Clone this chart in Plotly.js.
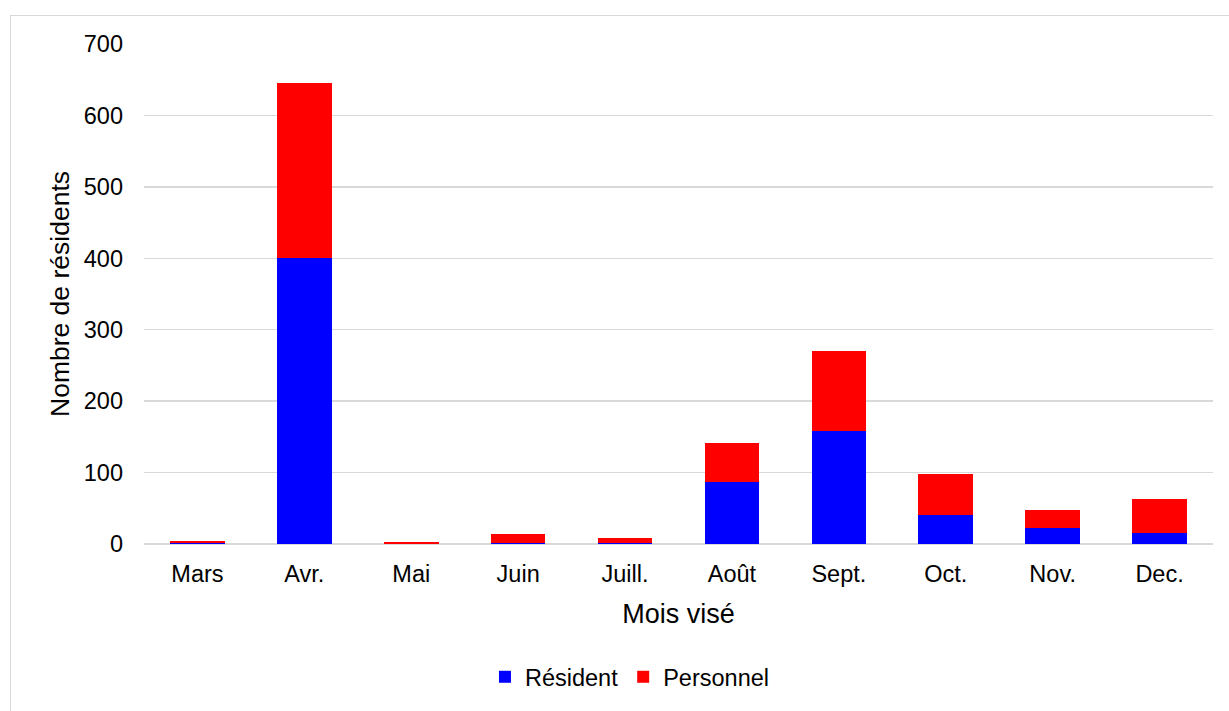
<!DOCTYPE html>
<html>
<head>
<meta charset="utf-8">
<script src="https://cdn.plot.ly/plotly-3.0.1.min.js"></script>
<style>
  html, body { margin: 0; padding: 0; background: #ffffff; }
  #frame { position: absolute; left: 10px; top: 15px; width: 1240px; height: 720px; border: 1.5px solid #d9d9d9; box-sizing: border-box; }
  #chart { position: absolute; left: 0; top: 0; width: 1229px; height: 711px; }
</style>
</head>
<body>
<div id="frame"></div>
<div id="chart"></div>
<script>
const months = ['Mars', 'Avr.', 'Mai', 'Juin', 'Juill.', 'Août', 'Sept.', 'Oct.', 'Nov.', 'Dec.'];
const resident = [1, 400, 0, 1, 1, 87, 158, 41, 22, 16];
const personnel = [3, 246, 3, 13, 7, 54, 112, 57, 25, 47];
const yTicks = [0, 100, 200, 300, 400, 500, 600, 700];

const font = 'Liberation Sans, Arial, sans-serif';

const traces = [
  { type: 'bar', name: 'Résident', x: months, y: resident, marker: { color: '#0000ff' }, hoverinfo: 'x+y+name' },
  { type: 'bar', name: 'Personnel', x: months, y: personnel, marker: { color: '#ff0000' }, hoverinfo: 'x+y+name' }
];

const layout = {
  width: 1229,
  height: 711,
  barmode: 'stack',
  bargap: 0.49,
  paper_bgcolor: 'rgba(0,0,0,0)',
  plot_bgcolor: 'rgba(0,0,0,0)',
  margin: { l: 144, r: 16, t: 44, b: 164 },
  font: { family: font, color: '#000000', size: 23.5 },
  xaxis: {
    type: 'category',
    showgrid: false,
    showline: false,
    ticks: '',
    ticklabelstandoff: 13,
    tickfont: { family: font, size: 23.5, color: '#000000' },
    title: { text: 'Mois visé', font: { family: font, size: 27, color: '#000000' }, standoff: 18 }
  },
  yaxis: {
    range: [0, 700],
    tickvals: yTicks,
    ticktext: yTicks.map(String),
    showgrid: true,
    gridcolor: '#d9d9d9',
    gridwidth: 1.5,
    zeroline: true,
    zerolinecolor: '#d9d9d9',
    zerolinewidth: 1.5,
    showline: false,
    ticks: '',
    ticklabelstandoff: 20,
    tickfont: { family: font, size: 23.5, color: '#000000' },
    title: { text: 'Nombre de résidents', font: { family: font, size: 26.5, color: '#000000' }, standoff: 6 }
  },
  showlegend: true,
  legend: {
    orientation: 'h',
    x: 0.4546,
    xanchor: 'center',
    y: -0.266,
    yanchor: 'middle',
    font: { family: font, size: 23.5, color: '#000000' },
    traceorder: 'normal',
    bgcolor: 'rgba(0,0,0,0)'
  }
};

Plotly.newPlot('chart', traces, layout, { displayModeBar: false, staticPlot: true });
</script>
</body>
</html>
